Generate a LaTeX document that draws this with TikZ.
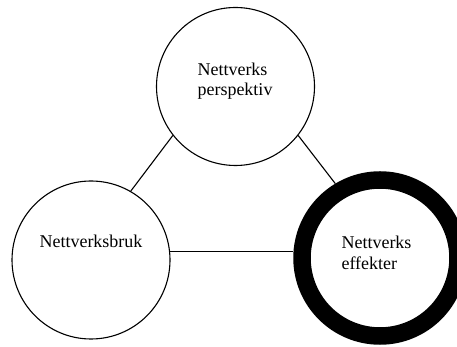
\documentclass[tikz,border=0pt]{standalone}
\usepackage{fontspec}
\setmainfont{Liberation Serif}
\usepackage{tikz}
\usetikzlibrary{arrows,shapes,positioning}

\begin{document}
\begin{tikzpicture}[x=1pt,y=1pt]
                    \tikzstyle{every node}+=[inner sep=0pt]
                    \tikzstyle{ring}=[draw=black, circle, line width=1.1pt, minimum size=158pt]
                    \tikzstyle{thickring}=[draw=black, circle, line width=17.5pt, minimum size=156pt]
                    \tikzstyle{ringtext}=[align=left, font=\fontsize{18}{20.5}\selectfont]
                    \useasboundingbox (0,0) rectangle (457,347);
                    \node [ring] (persp) at (235.5,260.5) {};
                    \node [ring] (bruk) at (91,87) {};
                    \node [thickring] (effekt) at (380,89) {};
                    \node [ringtext] (persptxt) at (235,266) {Nettverks\\perspektiv};
                    \node [ringtext] (bruktxt) at (91,106) {Nettverksbruk};
                    \node [ringtext] (effekttxt) at (376.5,94) {Nettverks\\effekter};
                    \draw [black, line width=1.1pt] (persp.218) -- (bruk.60);
                    \draw [black, line width=1.1pt] (persp.322) -- (effekt.121);
                    \draw [black, line width=1.1pt] (bruk.6) -- (bruk.6 -| effekt.west);
                \end{tikzpicture}
\end{document}
